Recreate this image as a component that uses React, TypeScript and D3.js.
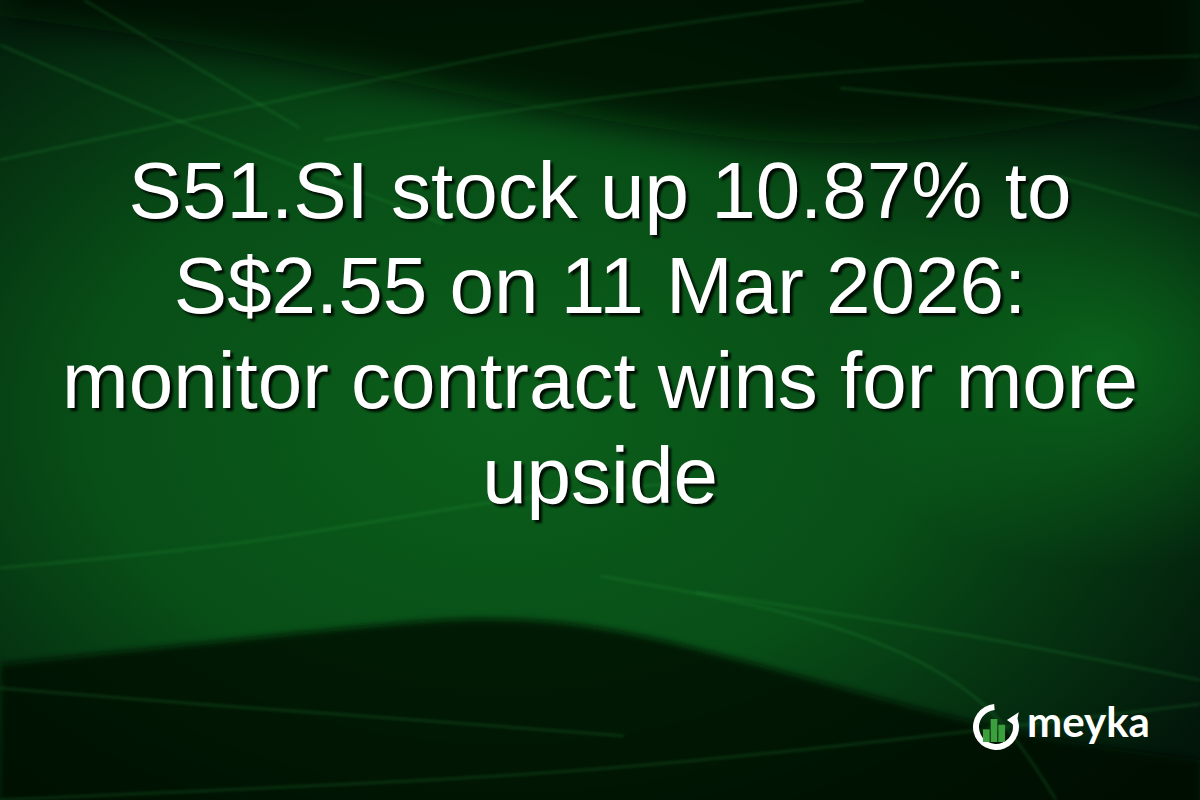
import { useEffect, useRef } from 'react'
import * as d3 from 'd3'

const WIDTH = 1200
const HEIGHT = 800

// headline, one entry per rendered line
const titleLines = [
  'S51.SI stock up 10.87% to',
  'S$2.55 on 11 Mar 2026:',
  'monitor contract wins for more',
  'upside',
]

// background shapes, in percent of the canvas (x 0-100, y 0-100)
const topShade: [number, number][] = [[0, 2], [20, 6], [42, 13], [66, 19], [83, 17], [100, 12]]
const bottomShade: [number, number][] = [[0, 83], [16, 80.5], [32, 78], [40, 77], [50, 78], [62, 82.5], [75, 88], [87, 92.5], [100, 95]]
const streaks: [number, number][][] = [
  [[0, 20], [25, 12], [50, 4], [72, 0]],
  [[27, 17.5], [50, 12], [75, 8], [100, 7]],
  [[70, 11], [85, 13], [100, 16]],
  [[0, 5.6], [12.5, 13.8], [25, 21], [37, 28]],
  [[7, 0], [17, 9], [25, 16]],
  [[88, 22], [95, 25], [100, 27]],
  [[0, 86], [16, 88], [35, 90], [52, 92]],
  [[50, 72], [65, 76], [75, 81], [83, 88], [88, 100]],
  [[58, 74], [80, 79], [100, 85]],
  [[0, 100], [30, 98], [55, 96], [100, 88]],
  [[0, 71], [22, 68], [42, 62], [60, 60]],
]

// logo bar heights, relative
const logoBars = [0.55, 1, 0.75]

export default function App() {
  const svgRef = useRef<SVGSVGElement>(null)

  useEffect(() => {
    if (!svgRef.current) return
    const svg = d3.select(svgRef.current)
    svg.selectAll('*').remove()

    const x = d3.scaleLinear().domain([0, 100]).range([0, WIDTH])
    const y = d3.scaleLinear().domain([0, 100]).range([0, HEIGHT])

    const defs = svg.append('defs')

    const glow = defs.append('radialGradient')
      .attr('id', 'glow')
      .attr('cx', 0.42).attr('cy', 0.52).attr('r', 0.7)
    glow.append('stop').attr('offset', '0%').attr('stop-color', '#0b5f1b')
    glow.append('stop').attr('offset', '50%').attr('stop-color', '#084e17')
    glow.append('stop').attr('offset', '100%').attr('stop-color', '#02160a')

    const rightGlow = defs.append('radialGradient').attr('id', 'rightGlow')
    rightGlow.append('stop').attr('offset', '0%').attr('stop-color', '#0b6b1d').attr('stop-opacity', 0.85)
    rightGlow.append('stop').attr('offset', '100%').attr('stop-color', '#0b6b1d').attr('stop-opacity', 0)

    defs.append('filter').attr('id', 'soft').attr('x', '-20%').attr('y', '-20%').attr('width', '140%').attr('height', '140%')
      .append('feGaussianBlur').attr('stdDeviation', 18)
    defs.append('filter').attr('id', 'edge')
      .append('feGaussianBlur').attr('stdDeviation', 3)
    defs.append('filter').attr('id', 'line').attr('x', '-10%').attr('y', '-10%').attr('width', '120%').attr('height', '120%')
      .append('feGaussianBlur').attr('stdDeviation', 1.5)
    defs.append('filter').attr('id', 'shadow')
      .append('feGaussianBlur').attr('stdDeviation', 0.8)

    svg.append('rect').attr('width', WIDTH).attr('height', HEIGHT).attr('fill', 'url(#glow)')
    svg.append('ellipse')
      .attr('cx', x(92)).attr('cy', y(45)).attr('rx', 280).attr('ry', 210)
      .attr('fill', 'url(#rightGlow)')

    const topArea = d3.area<[number, number]>()
      .x(d => x(d[0])).y0(-40).y1(d => y(d[1]))
      .curve(d3.curveBasis)
    svg.append('path').datum(topShade)
      .attr('d', topArea)
      .attr('fill', '#010a03').attr('opacity', 0.8)
      .attr('filter', 'url(#soft)')

    const bottomArea = d3.area<[number, number]>()
      .x(d => x(d[0])).y0(HEIGHT + 40).y1(d => y(d[1]))
      .curve(d3.curveBasis)
    svg.append('path').datum(bottomShade)
      .attr('d', bottomArea)
      .attr('fill', '#010d04').attr('opacity', 0.8)
      .attr('filter', 'url(#edge)')

    const line = d3.line<[number, number]>()
      .x(d => x(d[0])).y(d => y(d[1]))
      .curve(d3.curveBasis)
    svg.append('g').selectAll('path')
      .data(streaks)
      .join('path')
      .attr('d', line)
      .attr('fill', 'none')
      .attr('stroke', '#2fa844')
      .attr('stroke-width', 2.5)
      .attr('opacity', 0.22)
      .attr('filter', 'url(#line)')

    // headline: dark copy offset behind the white text
    const lineY = d3.scaleLinear().domain([0, 1]).range([218, 313])
    const title = svg.append('g')
      .attr('font-family', '"Liberation Sans", Arial, sans-serif')
      .attr('font-size', 80)
      .attr('text-anchor', 'middle')
    title.selectAll('text.shadow')
      .data(titleLines)
      .join('text')
      .attr('class', 'shadow')
      .attr('x', WIDTH / 2 + 3)
      .attr('y', (_, i) => lineY(i) + 3)
      .attr('fill', '#000')
      .attr('opacity', 0.85)
      .attr('filter', 'url(#shadow)')
      .text(d => d)
    title.selectAll('text.main')
      .data(titleLines)
      .join('text')
      .attr('class', 'main')
      .attr('x', WIDTH / 2)
      .attr('y', (_, i) => lineY(i))
      .attr('fill', '#ffffff')
      .text(d => d)

    // logo
    const logo = svg.append('g').attr('transform', 'translate(996,727)')
    const ring = d3.arc()
      .innerRadius(17).outerRadius(23)
      .startAngle(Math.PI / 3).endAngle(2 * Math.PI - 0.08)
    logo.append('path').attr('d', ring({} as any) as string).attr('fill', '#ffffff')
    const a = Math.PI / 3 - 0.05
    const px = (r: number, t: number) => [r * Math.sin(t), -r * Math.cos(t)]
    const tip = px(20, a + 0.55)
    const b1 = px(13, a)
    const b2 = px(27, a)
    logo.append('path')
      .attr('d', `M${b1[0]},${b1[1]}L${b2[0]},${b2[1]}L${tip[0]},${tip[1]}Z`)
      .attr('fill', '#ffffff')

    const bx = d3.scaleBand<number>().domain(d3.range(logoBars.length)).range([-14, 10]).padding(0.12)
    const by = d3.scaleLinear().domain([0, 1]).range([0, 23])
    logo.selectAll('rect')
      .data(logoBars)
      .join('rect')
      .attr('x', (_, i) => bx(i) || 0)
      .attr('y', d => 15 - by(d))
      .attr('width', bx.bandwidth())
      .attr('height', d => by(d))
      .attr('fill', '#3c9f3e')

    svg.append('text')
      .attr('x', 1027).attr('y', 737)
      .attr('font-family', 'Lato, "Open Sans", sans-serif')
      .attr('font-weight', 700)
      .attr('font-size', 42)
      .attr('fill', '#ffffff')
      .text('meyka')
  }, [])

  return (
    <svg
      ref={svgRef}
      width={WIDTH}
      height={HEIGHT}
      style={{ position: 'absolute', left: 0, top: 0, display: 'block' }}
    />
  )
}
